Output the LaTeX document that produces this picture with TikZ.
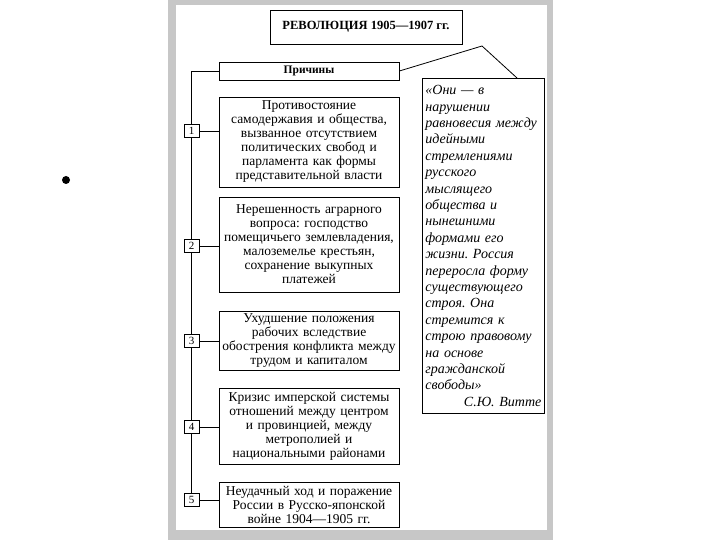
\documentclass[tikz,border=0pt]{standalone}
\usepackage{fontspec}
\setmainfont{Liberation Serif}
\frenchspacing

\begin{document}
\begin{tikzpicture}[x=1pt,y=-1pt,line width=0.8pt,
  reason node/.style={draw,fill=white,align=center,minimum width=180pt,
  text width=178pt,inner sep=0pt,font=\fontsize{13.5}{14}\selectfont},
  num node/.style={draw,fill=white,minimum width=15pt,minimum height=13pt,
  inner sep=0pt,font=\fontsize{11}{12}\selectfont}]

  \useasboundingbox (0,0) rectangle (720,540);

%cadre
  \fill[black!22] (168,0) rectangle (553,540);
  \fill[white] (176,5) rectangle (547,530);
  \fill (66,180) circle (4);

  \node[draw,minimum width=192pt,minimum height=34pt,
    font=\bfseries\fontsize{12.5}{14}\selectfont] (title) at (366,27) {РЕВОЛЮЦИЯ 1905—1907 гг.};
  \node[draw,minimum width=180pt,minimum height=18pt,inner sep=0pt,
    font=\bfseries\fontsize{11.5}{13}\selectfont] (causes) at (309,71) {Причины};

%causes
  \node[reason node,minimum height=90pt] (R1) at (309,142) {Противостояние\\самодержавия и общества,\\вызванное отсутствием\\политических свобод и\\парламента как формы\\представительной власти};
  \node[reason node,minimum height=95pt] (R2) at (309,244.5) {Нерешенность аграрного\\вопроса: господство\\помещичьего землевладения,\\малоземелье крестьян,\\сохранение выкупных\\платежей};
  \node[reason node,minimum height=59pt] (R3) at (309,340.5) {Ухудшение положения\\рабочих вследствие\\обострения конфликта между\\трудом и капиталом};
  \node[reason node,minimum height=76pt] (R4) at (309,426) {Кризис имперской системы\\отношений между центром\\и провинцией, между\\метрополией и\\национальными районами};
  \node[reason node,minimum height=45pt] (R5) at (309,504.5) {Неудачный ход и поражение\\России в Русско-японской\\войне 1904—1905 гг.};

  \node[num node] (N1) at (191.5,131) {1};
  \node[num node] (N2) at (191.5,246) {2};
  \node[num node] (N3) at (191.5,341) {3};
  \node[num node] (N4) at (191.5,427) {4};
  \node[num node] (N5) at (191.5,500) {5};

%citation
  \node[draw,anchor=north west,text width=116pt,inner sep=3pt,align=left,
    minimum height=335pt,font=\itshape\fontsize{14}{16.4}\selectfont] (quote) at (422,78)
    {«Они — в\\нарушении\\равновесия между\\идейными\\стремлениями\\русского\\мыслящего\\общества и\\нынешними\\формами его\\жизни. Россия\\переросла форму\\существующего\\строя. Она\\стремится к\\строю правовому\\на основе\\гражданской\\свободы»\\\hspace*{\fill}С.Ю. Витте};

%liaisons
  \coordinate (apex) at (482,46);
  \coordinate (qtop) at (517,78);
  \draw (causes.east) -- (apex) -- (qtop);
  \draw (causes.west) -| (N1.north);
  \foreach \a/\b in {1/2,2/3,3/4,4/5}
    \draw (N\a.south) -- (N\b.north);
  \foreach \i in {1,...,5}
    \draw (N\i.east) -- (N\i.east -| R\i.west);

\end{tikzpicture}
\end{document}
